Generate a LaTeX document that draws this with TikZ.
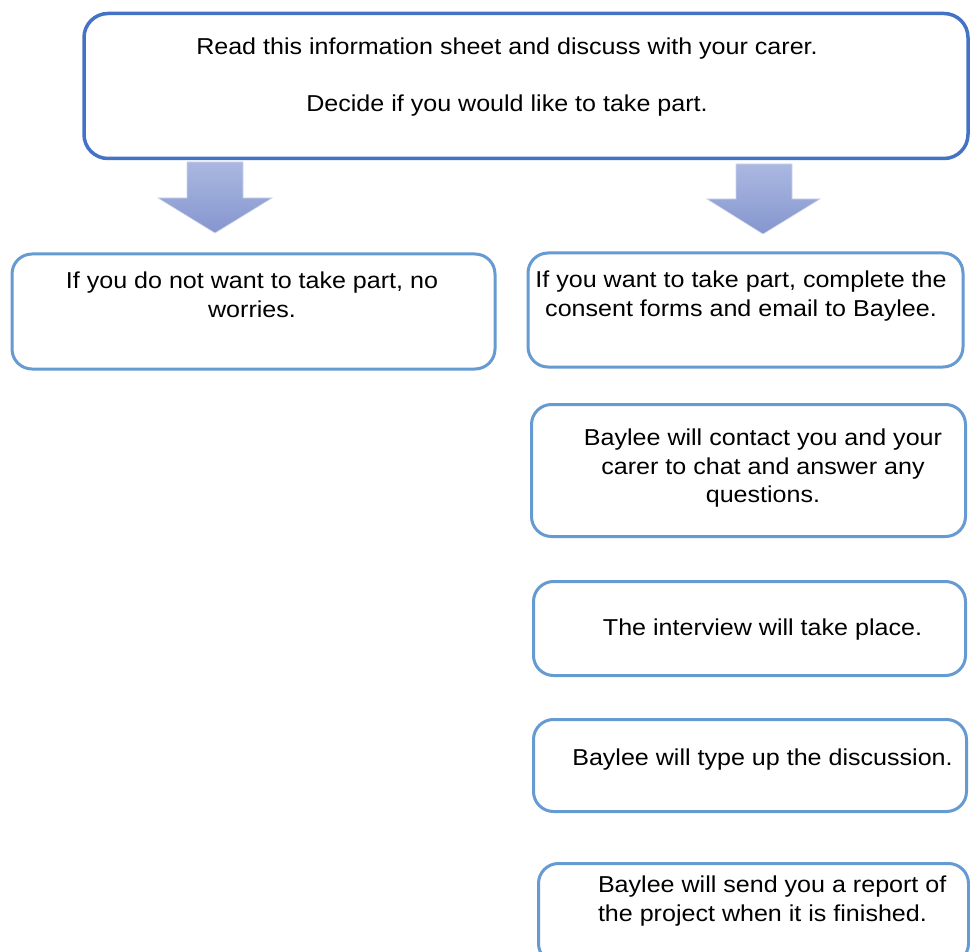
\documentclass[tikz,border=0pt]{standalone}
\usepackage{fontspec}
\setmainfont{Liberation Sans}[FakeStretch=1.09]

\definecolor{framedark}{HTML}{4472C4}
\definecolor{framelight}{HTML}{659AD2}
\definecolor{arrowtop}{HTML}{AAB8E0}
\definecolor{arrowbot}{HTML}{8596CF}

\tikzset{
  panel/.style={draw=framelight, line width=3pt, rounded corners=20pt,
    fill=white, inner sep=0pt, outer sep=0pt},
  headpanel/.style={panel, draw=framedark, line width=3.5pt, rounded corners=24pt},
  label/.style={inner sep=0pt, outer sep=0pt, align=center, anchor=north,
    font=\fontsize{23}{28.5}\selectfont, text=black,
    execute at begin node=\strut},
  blockarrow/.style={top color=arrowtop, bottom color=arrowbot,
    draw=arrowtop!60!white, line width=0.6pt, line join=miter},
}

\begin{document}
\begin{tikzpicture}[x=1pt, y=-1pt]
\useasboundingbox (0,0) rectangle (970,952);
\clip (0,0) rectangle (970,952);

% frames
\node[headpanel, minimum width=884pt, minimum height=145pt] (intro) at (526,86) {};
\node[panel, minimum width=483pt, minimum height=115pt] (decline) at (253.5,311.5) {};
\node[panel, minimum width=435pt, minimum height=114pt] (consent) at (745.5,310) {};
\node[panel, minimum width=434pt, minimum height=132pt] (contact) at (748.5,470.5) {};
\node[panel, minimum width=432pt, minimum height=94pt] (interview) at (749.5,628.5) {};
\node[panel, minimum width=433pt, minimum height=92pt] (typeup) at (750,765.5) {};
\node[panel, minimum width=430pt, minimum height=100pt] (report) at (753.5,913.5) {};

% texts
\node[label] (introtext) at (507,38)
  {Read this information sheet and discuss with your carer.\\[28.5pt]
   Decide if you would like to take part.};
\node[label] (declinetext) at (252,272)
  {If you do not want to take part, no\\ worries.};
\node[label] (consenttext) at (741,271)
  {If you want to take part, complete the\\ consent forms and email to Baylee.};
\node[label] (contacttext) at (763,429)
  {Baylee will contact you and your\\ carer to chat and answer any\\ questions.};
\node[label] (interviewtext) at (762.5,616)
  {The interview will take place.};
\node[label] (typeuptext) at (762.5,746)
  {Baylee will type up the discussion.};
\node[label, anchor=north west, align=left] (reporttext) at (598,876)
  {Baylee will send you a report of\\ the project when it is finished.};

% block arrows below the first frame
\path[blockarrow] (187,162) -- (243,162) -- (243,198) -- (272,198)
  -- (215,233) -- (158,198) -- (187,198) -- cycle;
\path[blockarrow] (736,164) -- (792,164) -- (792,199) -- (820,199)
  -- (763,234) -- (707,199) -- (736,199) -- cycle;
\end{tikzpicture}
\end{document}
